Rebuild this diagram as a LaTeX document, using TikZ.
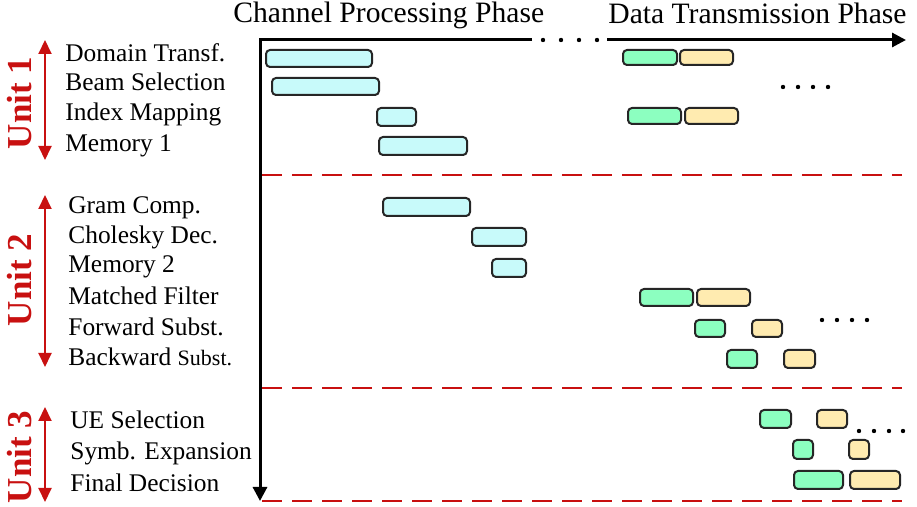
\documentclass[tikz,border=0pt]{standalone}
\usepackage{fontspec}
\setmainfont{Liberation Serif}
\usetikzlibrary{arrows.meta}

\definecolor{chanfill}{RGB}{200,250,250}
\definecolor{greenfill}{RGB}{140,255,192}
\definecolor{yellowfill}{RGB}{255,235,176}
\definecolor{unitred}{RGB}{200,16,16}

\tikzset{
  chan/.style={draw=black!85, line width=1pt, rounded corners=2pt, fill=chanfill},
  grn/.style={draw=black!85, line width=1pt, rounded corners=2pt, fill=greenfill},
  ylw/.style={draw=black!85, line width=1pt, rounded corners=2pt, fill=yellowfill},
  lbl/.style={anchor=base west, inner sep=0pt, font=\fontsize{12.7}{15}\selectfont},
  phase/.style={anchor=base west, inner sep=0pt, font=\fontsize{14.8}{17}\selectfont},
  unit/.style={rotate=90, inner sep=0pt, text=unitred, font=\fontsize{17.5}{20}\selectfont\bfseries},
  unitarr/.style={draw=unitred, line width=1pt, {Triangle[length=7pt,width=6.5pt]}-{Triangle[length=7pt,width=6.5pt]}},
  axis/.style={line width=1.5pt, line join=miter},
  sep/.style={draw=unitred, line width=1.25pt, dash pattern=on 10pt off 5pt}
}

\begin{document}
\begin{tikzpicture}[x=0.5pt, y=-0.5pt]
    \useasboundingbox (0,0) rectangle (917,507);

    % axes
    \coordinate (o) at (260,40);
    \coordinate (h1) at (532,40);
    \coordinate (h2) at (607,40);
    \coordinate (h3) at (906,40);
    \coordinate (v1) at (260,501);
    \draw[axis, -{Triangle[length=7pt,width=7pt]}] (h1) -- (o) -- (v1);
    \draw[axis, -{Triangle[length=7pt,width=7pt]}] (h2) -- (h3);
    \fill (543,40) circle (1.1pt) (561,40) circle (1.1pt) (579,40) circle (1.1pt) (597,40) circle (1.1pt);

    \node[phase] (cpp) at (233,23) {Channel Processing Phase};
    \node[phase] (dtp) at (608,24) {Data Transmission Phase};

    % unit separators
    \coordinate (s1a) at (262,175);
    \coordinate (s1b) at (902,175);
    \coordinate (s2a) at (262,388);
    \coordinate (s2b) at (902,388);
    \coordinate (s3a) at (262,501);
    \coordinate (s3b) at (902,501);
    \draw[sep] (s1a) -- (s1b);
    \draw[sep] (s2a) -- (s2b);
    \draw[sep] (s3a) -- (s3b);

    % unit 1
    \node[unit] (u1) at (20,103) {Unit 1};
    \coordinate (a1t) at (45,40);
    \coordinate (a1b) at (45,160);
    \draw[unitarr] (a1t) -- (a1b);
    \node[lbl] (dtr) at (65,62) {Domain Transf.};
    \node[lbl] (bsel) at (65,91) {Beam Selection};
    \node[lbl] (imap) at (65,121) {Index Mapping};
    \node[lbl] (mem1) at (65,152) {Memory 1};

    \draw[chan] (266,50) rectangle (372,67);
    \draw[chan] (272,78) rectangle (379,95);
    \draw[chan] (377,108) rectangle (416,126);
    \draw[chan] (379,137) rectangle (467,155);
    \draw[grn] (623,50) rectangle (677,65);
    \draw[ylw] (680,50) rectangle (733,65);
    \draw[grn] (628,108) rectangle (681,124);
    \draw[ylw] (685,108) rectangle (738,124);
    \fill (783,87) circle (1.1pt) (798,87) circle (1.1pt) (813,87) circle (1.1pt) (828,87) circle (1.1pt);

    % unit 2
    \node[unit] (u2) at (20,280) {Unit 2};
    \coordinate (a2t) at (45,195);
    \coordinate (a2b) at (45,367);
    \draw[unitarr] (a2t) -- (a2b);
    \node[lbl] (gram) at (68,214) {Gram Comp.};
    \node[lbl] (chol) at (68,244) {Cholesky Dec.};
    \node[lbl] (mem2) at (68,273) {Memory 2};
    \node[lbl] (mf) at (68,305) {Matched Filter};
    \node[lbl] (fwd) at (68,336) {Forward Subst.};
    \node[lbl] (bwd) at (68,366) {Backward {\fontsize{11}{13}\selectfont Subst.}};

    \draw[chan] (383,198) rectangle (470,216);
    \draw[chan] (472,228) rectangle (526,246);
    \draw[chan] (492,259) rectangle (526,277);
    \draw[grn] (640,289) rectangle (693,306);
    \draw[ylw] (697,289) rectangle (750,306);
    \draw[grn] (695,320) rectangle (725,337);
    \draw[ylw] (752,320) rectangle (782,337);
    \draw[grn] (727,350) rectangle (757,368);
    \draw[ylw] (784,350) rectangle (815,368);
    \fill (822,320) circle (1.1pt) (837,320) circle (1.1pt) (852,320) circle (1.1pt) (867,320) circle (1.1pt);

    % unit 3
    \node[unit] (u3) at (20,457) {Unit 3};
    \coordinate (a3t) at (45,407);
    \coordinate (a3b) at (45,502);
    \draw[unitarr] (a3t) -- (a3b);
    \node[lbl] (uesel) at (70,429) {UE Selection};
    \node[lbl] (symb) at (70,460) {Symb. Expansion};
    \node[lbl] (fdec) at (70,492) {Final Decision};

    \draw[grn] (760,410) rectangle (791,428);
    \draw[ylw] (817,410) rectangle (847,428);
    \draw[grn] (793,440) rectangle (813,459);
    \draw[ylw] (849,440) rectangle (869,459);
    \draw[grn] (794,471) rectangle (843,489);
    \draw[ylw] (850,471) rectangle (900,489);
    \fill (859,431) circle (1.1pt) (874,431) circle (1.1pt) (889,431) circle (1.1pt) (903,431) circle (1.1pt);
\end{tikzpicture}
\end{document}
